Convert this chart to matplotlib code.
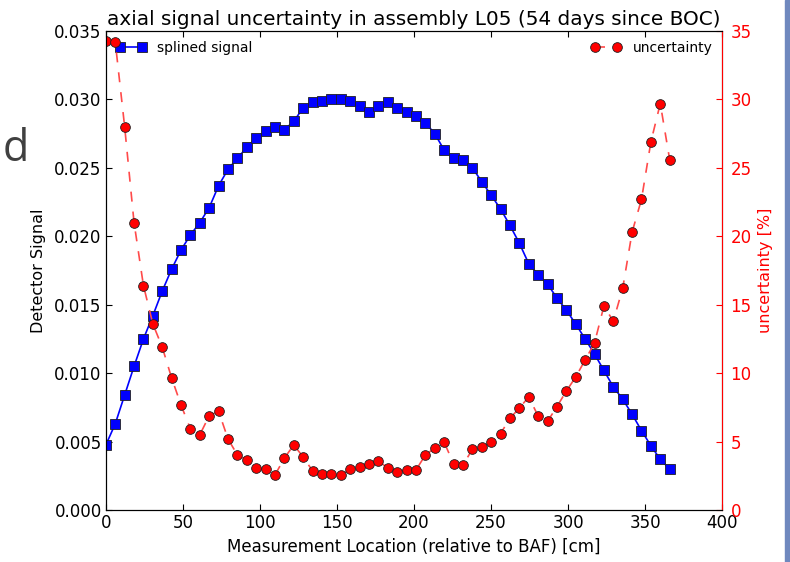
import matplotlib
matplotlib.use("Agg")
from matplotlib import pyplot as plt
from matplotlib.patches import Rectangle

# measurement locations [cm]
location = [0.0, 6.1, 12.2, 18.3, 24.4, 30.5, 36.6, 42.7, 48.8, 54.9,
            61.0, 67.1, 73.2, 79.3, 85.4, 91.5, 97.6, 103.7, 109.8, 115.9,
            122.0, 128.1, 134.2, 140.3, 146.4, 152.5, 158.6, 164.7, 170.8, 176.9,
            183.0, 189.1, 195.2, 201.3, 207.4, 213.5, 219.6, 225.7, 231.8, 237.9,
            244.0, 250.1, 256.2, 262.3, 268.4, 274.5, 280.6, 286.7, 292.8, 298.9,
            305.0, 311.1, 317.2, 323.3, 329.4, 335.5, 341.6, 347.7, 353.8, 359.9,
            366.0]

signal = [0.00475, 0.0063, 0.0084, 0.0105, 0.0125, 0.0142, 0.0160, 0.0176, 0.0190, 0.0201,
          0.0210, 0.0221, 0.0237, 0.0249, 0.0257, 0.0265, 0.0272, 0.0277, 0.0280, 0.0278,
          0.0284, 0.0294, 0.0298, 0.0299, 0.0300, 0.0300, 0.0299, 0.0295, 0.0291, 0.0295,
          0.0298, 0.0294, 0.0291, 0.0288, 0.0283, 0.0275, 0.0263, 0.0257, 0.0256, 0.0250,
          0.0240, 0.0230, 0.0220, 0.0208, 0.0195, 0.0180, 0.0172, 0.0165, 0.0155, 0.0146,
          0.0136, 0.0125, 0.0114, 0.0102, 0.0090, 0.0081, 0.0070, 0.0058, 0.0047, 0.0037,
          0.0030]

uncertainty = [34.3, 34.2, 28.0, 21.0, 16.4, 13.6, 11.9, 9.65, 7.67, 5.92,
               5.50, 6.89, 7.21, 5.19, 4.02, 3.65, 3.07, 3.00, 2.56, 3.80,
               4.75, 3.87, 2.86, 2.63, 2.63, 2.53, 3.00, 3.14, 3.39, 3.58,
               3.07, 2.78, 2.92, 2.92, 4.02, 4.53, 4.95, 3.39, 3.29, 4.43,
               4.60, 4.97, 5.58, 6.70, 7.45, 8.26, 6.87, 6.48, 7.55, 8.69,
               9.72, 10.96, 12.2, 14.9, 13.8, 16.2, 20.3, 22.7, 26.9, 29.7,
               25.6]

x_ticks = [0, 50, 100, 150, 200, 250, 300, 350, 400]

plt.rcParams['font.family'] = ['DejaVu Sans']
plt.rcParams['xtick.direction'] = 'in'
plt.rcParams['ytick.direction'] = 'in'
plt.rcParams['xtick.major.size'] = 4
plt.rcParams['ytick.major.size'] = 4
plt.rcParams['legend.numpoints'] = 2

fig = plt.figure(figsize=(7.9, 5.62), dpi=100)
ax = fig.add_axes([0.134, 0.0925, 0.78, 0.8523])
ax2 = ax.twinx()

ax.plot(location, signal, color='b', marker='s', markersize=6.5,
        markeredgecolor='#202020', markeredgewidth=0.6, lw=1.2,
        label='splined signal')
ax2.plot(location, uncertainty, color='#ff4a4a', ls='--', dashes=(6, 6),
         marker='o', markersize=7, markerfacecolor='r',
         markeredgecolor='#202020', markeredgewidth=0.6, lw=1.2,
         label='uncertainty')

ax.set_xlim(0, 400)
ax.set_ylim(0, 0.035)
ax2.set_ylim(0, 35)
ax.set_xticks(x_ticks)
ax.set_yticks([0.0, 0.005, 0.010, 0.015, 0.020, 0.025, 0.030, 0.035])
ax.set_yticklabels(['0.000', '0.005', '0.010', '0.015', '0.020', '0.025', '0.030', '0.035'])
ax.tick_params(axis='both', labelsize=12, top=True, right=False)
ax.tick_params(axis='y', pad=3)
ax.tick_params(axis='x', pad=3)
ax2.tick_params(axis='y', labelsize=12, colors='r', pad=6)
ax2.spines['right'].set_color('r')

ax.set_xlabel('Measurement Location (relative to BAF) [cm]', fontsize=12, labelpad=4)
ax.set_ylabel('Detector Signal', fontsize=11.5, labelpad=6)
ax2.set_ylabel('uncertainty [%]', fontsize=11.5, color='r', labelpad=5)
ax.set_title('axial signal uncertainty in assembly L05 (54 days since BOC)', fontsize=14.4, pad=4)

ax.legend(loc='upper left', frameon=False, fontsize=10, borderaxespad=0.3,
          handlelength=2.2)
ax2.legend(loc='upper right', frameon=False, fontsize=10, borderaxespad=0.3,
           handlelength=2.2)

fig.text(0.003, 0.7135, 'd', fontsize=31, color='#404040', family='Open Sans')
fig.add_artist(Rectangle((0.9937, 0), 0.0063, 1, transform=fig.transFigure,
                         color='#6f88be', zorder=5))

fig.savefig('out.png', dpi=100)
